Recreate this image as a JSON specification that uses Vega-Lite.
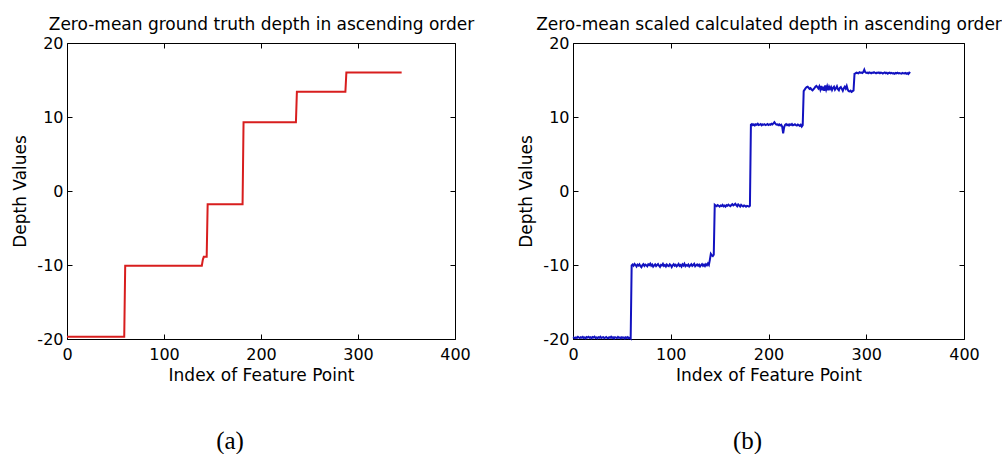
{
  "$schema": "https://vega.github.io/schema/vega-lite/v6.json",
  "background": "white",
  "padding": {"left": 11, "top": 15, "right": 0, "bottom": 0},
  "config": {
    "view": {"stroke": null},
    "font": "DejaVu Sans",
    "axis": {
      "grid": false,
      "domainColor": "#000",
      "domainWidth": 1,
      "tickColor": "#000",
      "tickWidth": 1,
      "tickSize": -5,
      "labelColor": "#000",
      "labelFont": "DejaVu Sans",
      "labelFontSize": 16,
      "labelFlush": false,
      "labelOverlap": false,
      "titleColor": "#000",
      "titleFont": "DejaVu Sans",
      "titleFontSize": 17,
      "titleFontWeight": "normal"
    }
  },
  "datasets": {
    "truth": [
      {"i": 0, "d": -19.7}, {"i": 59, "d": -19.7}, {"i": 60, "d": -10.1}, {"i": 139, "d": -10.1},
      {"i": 140, "d": -9.3}, {"i": 141, "d": -8.9}, {"i": 144, "d": -8.9}, {"i": 145, "d": -1.8},
      {"i": 181, "d": -1.8}, {"i": 182, "d": 9.3}, {"i": 236, "d": 9.3}, {"i": 237, "d": 13.4},
      {"i": 287, "d": 13.4}, {"i": 288, "d": 16.0}, {"i": 345, "d": 16.0}
    ],
    "calc": [
      {"i":0,"d":-19.75},{"i":1,"d":-19.82},{"i":2,"d":-19.9},{"i":3,"d":-19.78},{"i":4,"d":-19.85},{"i":5,"d":-19.7},{"i":6,"d":-19.8},{"i":7,"d":-19.88},{"i":8,"d":-19.76},{"i":9,"d":-19.83},
      {"i":10,"d":-19.72},{"i":11,"d":-19.86},{"i":12,"d":-19.79},{"i":13,"d":-19.9},{"i":14,"d":-19.74},{"i":15,"d":-19.81},{"i":16,"d":-19.7},{"i":17,"d":-19.84},{"i":18,"d":-19.77},{"i":19,"d":-19.89},
      {"i":20,"d":-19.73},{"i":21,"d":-19.8},{"i":22,"d":-19.68},{"i":23,"d":-19.85},{"i":24,"d":-19.78},{"i":25,"d":-19.9},{"i":26,"d":-19.75},{"i":27,"d":-19.82},{"i":28,"d":-19.7},{"i":29,"d":-19.87},
      {"i":30,"d":-19.79},{"i":31,"d":-19.74},{"i":32,"d":-19.88},{"i":33,"d":-19.8},{"i":34,"d":-19.72},{"i":35,"d":-19.85},{"i":36,"d":-19.9},{"i":37,"d":-19.77},{"i":38,"d":-19.83},{"i":39,"d":-19.7},
      {"i":40,"d":-19.86},{"i":41,"d":-19.78},{"i":42,"d":-19.92},{"i":43,"d":-19.75},{"i":44,"d":-19.81},{"i":45,"d":-19.88},{"i":46,"d":-19.73},{"i":47,"d":-19.84},{"i":48,"d":-19.79},{"i":49,"d":-19.9},
      {"i":50,"d":-19.76},{"i":51,"d":-19.85},{"i":52,"d":-19.8},{"i":53,"d":-19.93},{"i":54,"d":-19.78},{"i":55,"d":-19.86},{"i":56,"d":-19.74},{"i":57,"d":-19.9},{"i":58,"d":-19.83},{"i":59,"d":-19.95},
      {"i":60,"d":-10.05},{"i":61,"d":-9.92},{"i":62,"d":-10.1},{"i":63,"d":-9.85},{"i":64,"d":-10.0},{"i":65,"d":-10.2},{"i":66,"d":-9.95},{"i":67,"d":-10.08},{"i":68,"d":-9.9},{"i":69,"d":-10.15},
      {"i":70,"d":-10.3},{"i":71,"d":-10.02},{"i":72,"d":-9.88},{"i":73,"d":-10.12},{"i":74,"d":-9.95},{"i":75,"d":-10.05},{"i":76,"d":-10.18},{"i":77,"d":-9.9},{"i":78,"d":-10.0},{"i":79,"d":-9.82},
      {"i":80,"d":-10.1},{"i":81,"d":-9.95},{"i":82,"d":-10.22},{"i":83,"d":-10.05},{"i":84,"d":-9.92},{"i":85,"d":-10.15},{"i":86,"d":-10.0},{"i":87,"d":-9.88},{"i":88,"d":-10.1},{"i":89,"d":-10.25},
      {"i":90,"d":-9.98},{"i":91,"d":-10.06},{"i":92,"d":-9.85},{"i":93,"d":-10.12},{"i":94,"d":-10.0},{"i":95,"d":-10.2},{"i":96,"d":-9.93},{"i":97,"d":-10.08},{"i":98,"d":-10.15},{"i":99,"d":-9.9},
      {"i":100,"d":-10.02},{"i":101,"d":-10.28},{"i":102,"d":-10.05},{"i":103,"d":-9.9},{"i":104,"d":-10.1},{"i":105,"d":-9.97},{"i":106,"d":-10.18},{"i":107,"d":-10.04},{"i":108,"d":-9.86},{"i":109,"d":-10.12},
      {"i":110,"d":-10.0},{"i":111,"d":-10.22},{"i":112,"d":-9.92},{"i":113,"d":-10.07},{"i":114,"d":-9.83},{"i":115,"d":-10.15},{"i":116,"d":-10.0},{"i":117,"d":-10.1},{"i":118,"d":-9.94},{"i":119,"d":-10.2},
      {"i":120,"d":-10.05},{"i":121,"d":-9.9},{"i":122,"d":-10.12},{"i":123,"d":-10.0},{"i":124,"d":-9.84},{"i":125,"d":-10.16},{"i":126,"d":-10.03},{"i":127,"d":-9.92},{"i":128,"d":-10.1},{"i":129,"d":-9.96},
      {"i":130,"d":-10.2},{"i":131,"d":-10.02},{"i":132,"d":-9.88},{"i":133,"d":-10.1},{"i":134,"d":-9.95},{"i":135,"d":-10.14},{"i":136,"d":-9.9},{"i":137,"d":-10.05},{"i":138,"d":-9.8},{"i":139,"d":-10.0},
      {"i":140,"d":-9.3},{"i":141,"d":-8.5},{"i":142,"d":-8.7},{"i":143,"d":-8.8},{"i":144,"d":-8.6},
      {"i":145,"d":-1.85},{"i":146,"d":-1.95},{"i":147,"d":-2.05},{"i":148,"d":-1.9},{"i":149,"d":-2.0},{"i":150,"d":-2.1},{"i":151,"d":-1.95},{"i":152,"d":-2.02},{"i":153,"d":-1.88},{"i":154,"d":-2.08},
      {"i":155,"d":-1.98},{"i":156,"d":-2.12},{"i":157,"d":-1.92},{"i":158,"d":-2.0},{"i":159,"d":-1.85},{"i":160,"d":-1.95},{"i":161,"d":-2.05},{"i":162,"d":-1.9},{"i":163,"d":-1.78},{"i":164,"d":-1.95},
      {"i":165,"d":-1.85},{"i":166,"d":-1.72},{"i":167,"d":-1.9},{"i":168,"d":-2.05},{"i":169,"d":-1.82},{"i":170,"d":-1.95},{"i":171,"d":-2.1},{"i":172,"d":-1.88},{"i":173,"d":-2.0},{"i":174,"d":-2.08},
      {"i":175,"d":-1.95},{"i":176,"d":-2.02},{"i":177,"d":-2.12},{"i":178,"d":-2.0},{"i":179,"d":-2.05},{"i":180,"d":-2.1},{"i":181,"d":-2.0},
      {"i":182,"d":8.95},{"i":183,"d":9.05},{"i":184,"d":8.9},{"i":185,"d":9.0},{"i":186,"d":8.85},{"i":187,"d":9.02},{"i":188,"d":8.95},{"i":189,"d":9.08},{"i":190,"d":8.92},{"i":191,"d":8.98},
      {"i":192,"d":9.05},{"i":193,"d":8.88},{"i":194,"d":9.0},{"i":195,"d":8.95},{"i":196,"d":9.02},{"i":197,"d":8.9},{"i":198,"d":8.97},{"i":199,"d":9.05},{"i":200,"d":8.92},{"i":201,"d":9.0},
      {"i":202,"d":8.95},{"i":203,"d":9.08},{"i":204,"d":9.0},{"i":205,"d":9.15},{"i":206,"d":9.3},{"i":207,"d":9.1},{"i":208,"d":8.98},{"i":209,"d":9.02},{"i":210,"d":8.9},{"i":211,"d":9.0},
      {"i":212,"d":8.85},{"i":213,"d":8.95},{"i":214,"d":8.7},{"i":215,"d":7.8},{"i":216,"d":8.6},{"i":217,"d":8.95},{"i":218,"d":9.05},{"i":219,"d":8.9},{"i":220,"d":8.98},{"i":221,"d":8.85},
      {"i":222,"d":9.0},{"i":223,"d":8.92},{"i":224,"d":9.05},{"i":225,"d":8.88},{"i":226,"d":8.95},{"i":227,"d":9.02},{"i":228,"d":8.9},{"i":229,"d":8.85},{"i":230,"d":8.98},{"i":231,"d":8.9},
      {"i":232,"d":8.8},{"i":233,"d":8.95},{"i":234,"d":8.7},{"i":235,"d":8.9},
      {"i":236,"d":13.5},{"i":237,"d":13.7},{"i":238,"d":13.9},{"i":239,"d":14.05},{"i":240,"d":14.1},{"i":241,"d":13.95},{"i":242,"d":13.8},{"i":243,"d":13.9},{"i":244,"d":13.7},{"i":245,"d":13.6},
      {"i":246,"d":13.75},{"i":247,"d":13.9},{"i":248,"d":14.1},{"i":249,"d":14.2},{"i":250,"d":14.05},{"i":251,"d":13.85},{"i":252,"d":14.15},{"i":253,"d":13.7},{"i":254,"d":14.2},{"i":255,"d":13.6},
      {"i":256,"d":14.1},{"i":257,"d":13.55},{"i":258,"d":14.25},{"i":259,"d":13.7},{"i":260,"d":14.15},{"i":261,"d":13.6},{"i":262,"d":14.1},{"i":263,"d":13.8},{"i":264,"d":14.05},{"i":265,"d":13.65},
      {"i":266,"d":13.95},{"i":267,"d":14.1},{"i":268,"d":13.7},{"i":269,"d":13.9},{"i":270,"d":14.15},{"i":271,"d":13.75},{"i":272,"d":13.6},{"i":273,"d":13.95},{"i":274,"d":14.05},{"i":275,"d":13.8},
      {"i":276,"d":13.55},{"i":277,"d":13.9},{"i":278,"d":14.1},{"i":279,"d":13.85},{"i":280,"d":14.2},{"i":281,"d":13.7},{"i":282,"d":13.5},{"i":283,"d":13.45},{"i":284,"d":13.55},{"i":285,"d":13.4},
      {"i":286,"d":13.5},{"i":287,"d":13.6},
      {"i":288,"d":15.85},{"i":289,"d":15.9},{"i":290,"d":16.0},{"i":291,"d":15.95},{"i":292,"d":15.9},{"i":293,"d":16.05},{"i":294,"d":15.98},{"i":295,"d":16.0},{"i":296,"d":15.95},{"i":297,"d":16.1},
      {"i":298,"d":16.4},{"i":299,"d":16.05},{"i":300,"d":15.95},{"i":301,"d":16.0},{"i":302,"d":15.92},{"i":303,"d":16.02},{"i":304,"d":15.98},{"i":305,"d":15.9},{"i":306,"d":16.0},{"i":307,"d":15.95},
      {"i":308,"d":16.05},{"i":309,"d":15.98},{"i":310,"d":15.9},{"i":311,"d":16.0},{"i":312,"d":15.95},{"i":313,"d":16.02},{"i":314,"d":15.92},{"i":315,"d":16.0},{"i":316,"d":15.97},{"i":317,"d":15.88},
      {"i":318,"d":15.95},{"i":319,"d":16.02},{"i":320,"d":15.9},{"i":321,"d":15.98},{"i":322,"d":15.85},{"i":323,"d":15.95},{"i":324,"d":16.0},{"i":325,"d":15.9},{"i":326,"d":15.96},{"i":327,"d":15.88},
      {"i":328,"d":15.92},{"i":329,"d":15.85},{"i":330,"d":15.95},{"i":331,"d":15.9},{"i":332,"d":15.98},{"i":333,"d":15.88},{"i":334,"d":15.93},{"i":335,"d":15.9},{"i":336,"d":15.85},{"i":337,"d":15.95},
      {"i":338,"d":15.9},{"i":339,"d":15.88},{"i":340,"d":15.95},{"i":341,"d":15.85},{"i":342,"d":15.92},{"i":343,"d":15.8},{"i":344,"d":16.0},{"i":345,"d":15.9}
    ]
  },
  "spacing": 118,
  "bounds": "flush",
  "hconcat": [
    {
      "width": 388,
      "height": 296,
      "data": {"name": "truth"},
      "title": {"text": "(a)", "orient": "bottom", "frame": "group", "anchor": "middle", "font": "Liberation Serif", "fontSize": 25, "fontWeight": "normal", "color": "#000", "dx": -31, "offset": 46},
      "resolve": {"axis": {"x": "independent", "y": "independent"}},
      "layer": [
        {
          "mark": {"type": "line", "color": "#d81e1e", "strokeWidth": 2},
          "encoding": {
            "x": {"field": "i", "type": "quantitative", "scale": {"domain": [0, 400], "nice": false, "zero": false},
                  "axis": {"orient": "bottom", "values": [0, 100, 200, 300, 400], "labelPadding": 12, "title": "Index of Feature Point", "titlePadding": 5}},
            "y": {"field": "d", "type": "quantitative", "scale": {"domain": [-20, 20], "nice": false, "zero": false},
                  "axis": {"orient": "left", "values": [-20, -10, 0, 10, 20], "labelPadding": 9, "labelExpr": "'' + datum.value", "title": "Depth Values", "titlePadding": 7}}
          }
        },
        {
          "mark": {"type": "line", "opacity": 0},
          "encoding": {
            "x": {"field": "i", "type": "quantitative",
                  "axis": {"orient": "top", "values": [0, 100, 200, 300, 400], "labels": false, "title": "Zero-mean ground truth depth in ascending order", "titleFontSize": 17, "titlePadding": 9}},
            "y": {"field": "d", "type": "quantitative",
                  "axis": {"orient": "right", "values": [-20, -10, 0, 10, 20], "labels": false, "title": null}}
          }
        }
      ]
    },
    {
      "width": 391,
      "height": 296,
      "data": {"name": "calc"},
      "title": {"text": "(b)", "orient": "bottom", "frame": "group", "anchor": "middle", "font": "Liberation Serif", "fontSize": 25, "fontWeight": "normal", "color": "#000", "dx": -21, "offset": 46},
      "resolve": {"axis": {"x": "independent", "y": "independent"}},
      "layer": [
        {
          "mark": {"type": "line", "color": "#1212c0", "strokeWidth": 2},
          "encoding": {
            "x": {"field": "i", "type": "quantitative", "scale": {"domain": [0, 400], "nice": false, "zero": false},
                  "axis": {"orient": "bottom", "values": [0, 100, 200, 300, 400], "labelPadding": 12, "title": "Index of Feature Point", "titlePadding": 5}},
            "y": {"field": "d", "type": "quantitative", "scale": {"domain": [-20, 20], "nice": false, "zero": false},
                  "axis": {"orient": "left", "values": [-20, -10, 0, 10, 20], "labelPadding": 9, "labelExpr": "'' + datum.value", "title": "Depth Values", "titlePadding": 7}}
          }
        },
        {
          "mark": {"type": "line", "opacity": 0},
          "encoding": {
            "x": {"field": "i", "type": "quantitative",
                  "axis": {"orient": "top", "values": [0, 100, 200, 300, 400], "labels": false, "title": "Zero-mean scaled calculated depth in ascending order", "titleFontSize": 17, "titlePadding": 9}},
            "y": {"field": "d", "type": "quantitative",
                  "axis": {"orient": "right", "values": [-20, -10, 0, 10, 20], "labels": false, "title": null}}
          }
        }
      ]
    }
  ]
}
